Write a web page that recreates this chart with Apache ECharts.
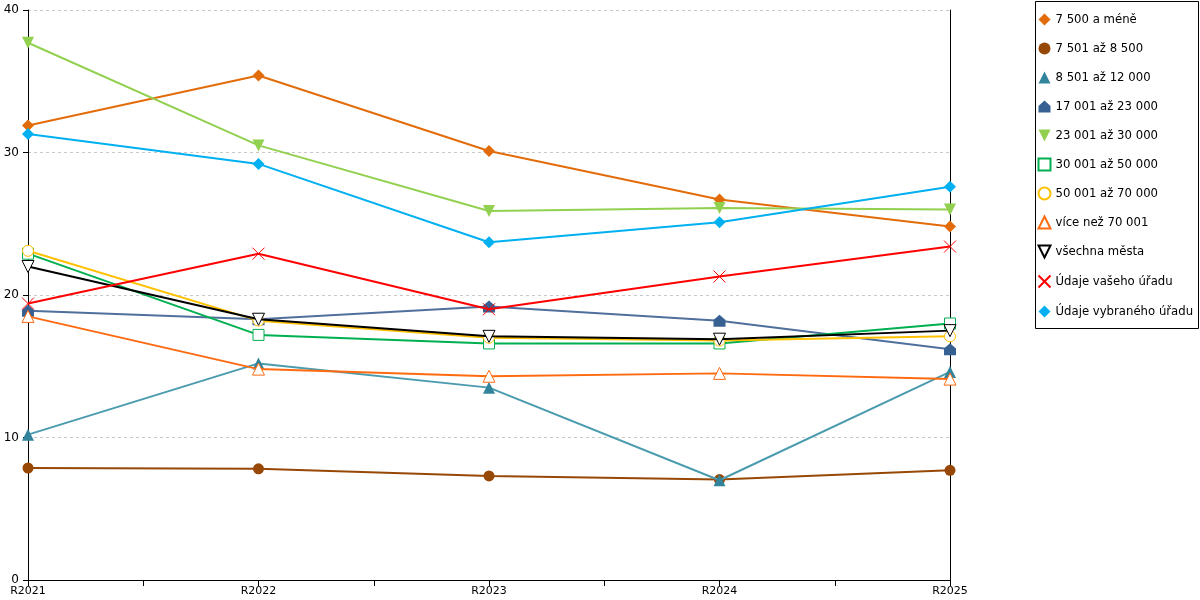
<!DOCTYPE html>
<html>
<head>
<meta charset="utf-8">
<script src="https://cdn.jsdelivr.net/npm/echarts@6/dist/echarts.min.js"></script>
<style>
    html, body { margin: 0; padding: 0; background: #fff; }
    #chart { width: 1200px; height: 600px; }
</style>
</head>
<body>
<div id="chart"></div>
<script>
var years = ['R2021', 'R2022', 'R2023', 'R2024', 'R2025'];

var names = [
    '7 500 a méně',
    '7 501 až 8 500',
    '8 501 až 12 000',
    '17 001 až 23 000',
    '23 001 až 30 000',
    '30 001 až 50 000',
    '50 001 až 70 000',
    'více než 70 001',
    'všechna města',
    'Údaje vašeho úřadu',
    'Údaje vybraného úřadu'
];

var do7500 = [31.9, 35.4, 30.1, 26.7, 24.8];
var do8500 = [7.86, 7.8, 7.3, 7.05, 7.7];
var do12000 = [10.2, 15.2, 13.5, 7.0, 14.6];
var do23000 = [18.9, 18.3, 19.2, 18.2, 16.2];
var do30000 = [37.7, 30.5, 25.9, 26.1, 26.0];
var do50000 = [22.9, 17.2, 16.6, 16.6, 18.0];
var do70000 = [23.1, 18.2, 17.0, 16.8, 17.1];
var nad70001 = [18.5, 14.8, 14.3, 14.5, 14.1];
var vsechna = [22.0, 18.3, 17.1, 16.9, 17.5];
var vasUrad = [19.4, 22.9, 19.0, 21.3, 23.4];
var vybranyUrad = [31.3, 29.2, 23.7, 25.1, 27.6];

var values = [do7500, do8500, do12000, do23000, do30000, do50000, do70000,
    nad70001, vsechna, vasUrad, vybranyUrad];

var down = 'path://M0,0L10,0L5,10Z';
var house = 'path://M5,0L10,4.5L10,10L0,10L0,4.5Z';
var cross = 'path://M0,0L10,10M10,0L0,10';

// [line colour, marker, fill, border]
var looks = [
    ['#E36C0A', 'diamond', '#E36C0A', null],
    ['#974806', 'circle', '#974806', null],
    ['#4A9BAE', 'triangle', '#31849B', null],
    ['#4F6F9C', house, '#376092', null],
    ['#92D050', down, '#92D050', null],
    ['#00B050', 'rect', '#fff', '#00B050'],
    ['#FFC000', 'circle', '#fff', '#FFC000'],
    ['#FF6A10', 'triangle', '#fff', '#FF6A10'],
    ['#000000', down, '#fff', '#000000'],
    ['#FF0000', cross, 'none', '#FF0000'],
    ['#00B0F0', 'diamond', '#00B0F0', null]
];

var series = [];
var legendData = [];
names.forEach(function (n, i) {
    var lk = looks[i];
    var itemStyle = {color: lk[2]};
    if (lk[3]) {
        itemStyle.borderColor = lk[3];
        itemStyle.borderWidth = 1;
    }
    series.push({
        name: n,
        type: 'line',
        data: values[i].map(function (v, j) { return [j, v]; }),
        symbol: lk[1],
        symbolSize: lk[1] === 'circle' || lk[1] === 'rect' ? 11 : 12,
        showAllSymbol: true,
        lineStyle: {color: lk[0], width: 2},
        itemStyle: itemStyle,
        emphasis: {disabled: true},
        z: 2 + i
    });
    legendData.push({name: n, icon: lk[1]});
});

var chart = echarts.init(document.getElementById('chart'));
var option = {
    animation: false,
    textStyle: {fontFamily: 'DejaVu Sans'},
    grid: {left: 28, right: 250, top: 10, bottom: 20},
    graphic: [{
        type: 'rect',
        left: 1035,
        top: 1,
        shape: {width: 163, height: 327},
        style: {fill: '#fff', stroke: '#000', lineWidth: 1},
        z: -1
    }],
    legend: {
        orient: 'vertical',
        left: 1036,
        top: 12,
        padding: 0,
        itemWidth: 12,
        itemHeight: 12,
        itemGap: 14,
        textStyle: {fontSize: 11.7, lineHeight: 15, color: '#000', fontFamily: 'DejaVu Sans'},
        data: legendData
    },
    xAxis: {
        type: 'value',
        min: 0,
        max: 4,
        interval: 0.5,
        axisLine: {lineStyle: {color: '#000', width: 1}},
        axisTick: {length: 6, lineStyle: {color: '#000'}},
        splitLine: {show: false},
        axisLabel: {
            color: '#000',
            fontSize: 11,
            margin: 6,
            showMinLabel: true,
            showMaxLabel: true,
            formatter: function (v) {
                return Number.isInteger(v) ? years[v] : '';
            }
        }
    },
    yAxis: [{
        type: 'value',
        min: 0,
        max: 40,
        interval: 10,
        axisLine: {show: true, lineStyle: {color: '#000', width: 1}},
        axisTick: {show: true, length: 5, lineStyle: {color: '#000'}},
        axisLabel: {color: '#000', fontSize: 12, margin: 9},
        splitLine: {lineStyle: {color: '#c8c8c8', type: [3, 3]}}
    }, {
        type: 'value',
        min: 0,
        max: 40,
        interval: 10,
        position: 'right',
        axisLine: {show: true, lineStyle: {color: '#000', width: 1}},
        axisTick: {show: false},
        axisLabel: {show: false},
        splitLine: {show: false}
    }],
    series: series
};
chart.setOption(option);
</script>
</body>
</html>
